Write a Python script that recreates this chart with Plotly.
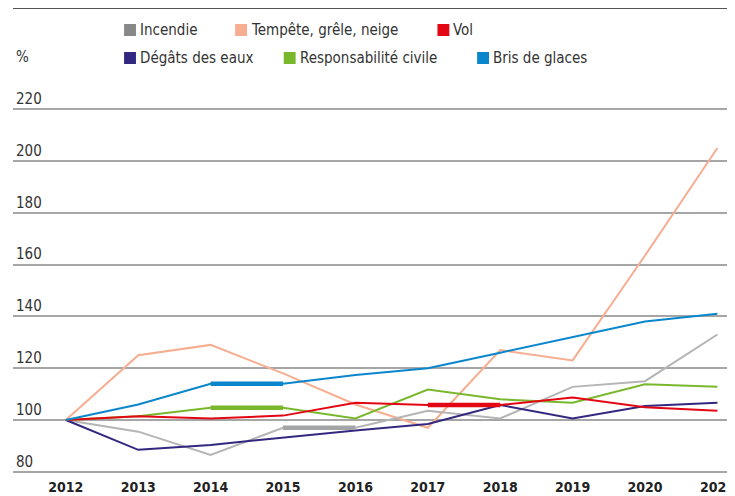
import plotly.graph_objects as go

# données (indice, 2012 = 100)
years = [2012, 2013, 2014, 2015, 2016, 2017, 2018, 2019, 2020, 2021]
incendie = [100, 95.5, 86.5, 97, 97, 103.6, 100.6, 112.8, 115, 133]
tempete = [100, 125, 129, 118, 106, 97, 127, 123, 163.5, 205]
vol = [100, 101.5, 100.6, 101.7, 106.7, 105.8, 105.8, 108.7, 104.9, 103.6]
degats_eaux = [100, 88.5, 90.4, 93.3, 96, 98.5, 105.8, 100.6, 105.4, 106.7]
resp_civile = [100, 101.5, 104.7, 104.7, 100.6, 111.8, 108, 106.7, 113.8, 112.8]
bris_glaces = [100, 106, 114, 114, 117.4, 120, 126, 132, 138, 141]
y_ticks = [80, 100, 120, 140, 160, 180, 200, 220]

series = {
    "Incendie": incendie,
    "Tempête, grêle, neige": tempete,
    "Vol": vol,
    "Dégâts des eaux": degats_eaux,
    "Responsabilité civile": resp_civile,
    "Bris de glaces": bris_glaces,
}
# segments épais (série, année début, année fin)
highlights = [
    ("Bris de glaces", 2014, 2015),
    ("Responsabilité civile", 2014, 2015),
    ("Incendie", 2015, 2016),
    ("Vol", 2017, 2018),
]

colors = {
    "Incendie": "#b5b5b5",
    "Tempête, grêle, neige": "#f6ad90",
    "Vol": "#e30613",
    "Dégâts des eaux": "#33287f",
    "Responsabilité civile": "#79b82d",
    "Bris de glaces": "#0a86cc",
}
legend_colors = dict(colors, Incendie="#87888a")
thick_colors = dict(colors, Incendie="#a2a4a6")

FONT = "Liberation Sans Narrow, DejaVu Sans Condensed, Arial Narrow, sans-serif"
# la page ajoute 8px de marge autour de la figure
OFF = 8
W, H = 735 - OFF, 496 - OFF
L, R = 13 - OFF, 0
T = 104 - OFF   # haut de la zone de tracé (fenêtre y=104)
B = H - (477 - OFF)


def px_x(x):
    # x en pixels de la fenêtre -> papier
    return (x - OFF - L) / (W - L - R)


def px_y(y):
    return (H - B - (y - OFF)) / (H - T - B)


fig = go.Figure()
draw_order = ["Tempête, grêle, neige", "Incendie", "Dégâts des eaux",
              "Responsabilité civile", "Vol", "Bris de glaces"]
for name in draw_order:
    fig.add_trace(go.Scatter(x=years, y=series[name], mode="lines", name=name,
                             line=dict(color=colors[name], width=2),
                             showlegend=False, hoverinfo="skip"))

for name, y0, y1 in highlights:
    i0, i1 = years.index(y0), years.index(y1)
    fig.add_trace(go.Scatter(x=years[i0:i1 + 1], y=series[name][i0:i1 + 1],
                             mode="lines", line=dict(color=thick_colors[name], width=4.5),
                             showlegend=False, hoverinfo="skip"))

# légende manuelle (deux lignes)
legend_pos = {
    "Incendie": (125, 30),
    "Tempête, grêle, neige": (237, 30),
    "Vol": (441, 30),
    "Dégâts des eaux": (125, 58),
    "Responsabilité civile": (286, 58),
    "Bris de glaces": (481, 58),
}
shapes = []
annotations = []
for name, (x, y) in legend_pos.items():
    shapes.append(dict(type="rect", xref="paper", yref="paper",
                       x0=px_x(x), x1=px_x(x + 12), y0=px_y(y + 6), y1=px_y(y - 6),
                       fillcolor=legend_colors[name], line=dict(width=0)))
    annotations.append(dict(text=name, xref="paper", yref="paper",
                            x=px_x(x + 14), y=px_y(y), xanchor="left", yanchor="middle",
                            showarrow=False, font=dict(family=FONT, size=15, color="#333333")))

annotations.append(dict(text="%", xref="paper", yref="paper", x=px_x(14), y=px_y(57),
                        xanchor="left", yanchor="middle", showarrow=False,
                        font=dict(family=FONT, size=15, color="#333333")))
shapes.append(dict(type="line", xref="paper", yref="paper", x0=px_x(13), x1=1,
                   y0=px_y(8), y1=px_y(8), line=dict(color="#555555", width=2)))

fig.update_layout(
    width=W, height=H,
    margin=dict(l=L, r=R, t=T, b=B),
    paper_bgcolor="white", plot_bgcolor="white",
    font=dict(family=FONT, color="#333333"),
    shapes=shapes, annotations=annotations,
    xaxis=dict(range=[2011.27, 2021.16], tickvals=years,
               ticktext=["<b>%d</b>" % y for y in years],
               showgrid=False, zeroline=False, showline=False,
               ticks="", ticklabeloverflow="allow",
               tickfont=dict(size=14, color="#222222")),
    yaxis=dict(range=[78, 222], tickvals=y_ticks,
               ticklabelposition="inside top", ticklabeloverflow="allow",
               showgrid=True, gridcolor="#a6a6a6", gridwidth=1.5,
               zeroline=False, showline=False, ticks="",
               tickfont=dict(size=15, color="#333333")),
)

fig.write_html("out.html")
